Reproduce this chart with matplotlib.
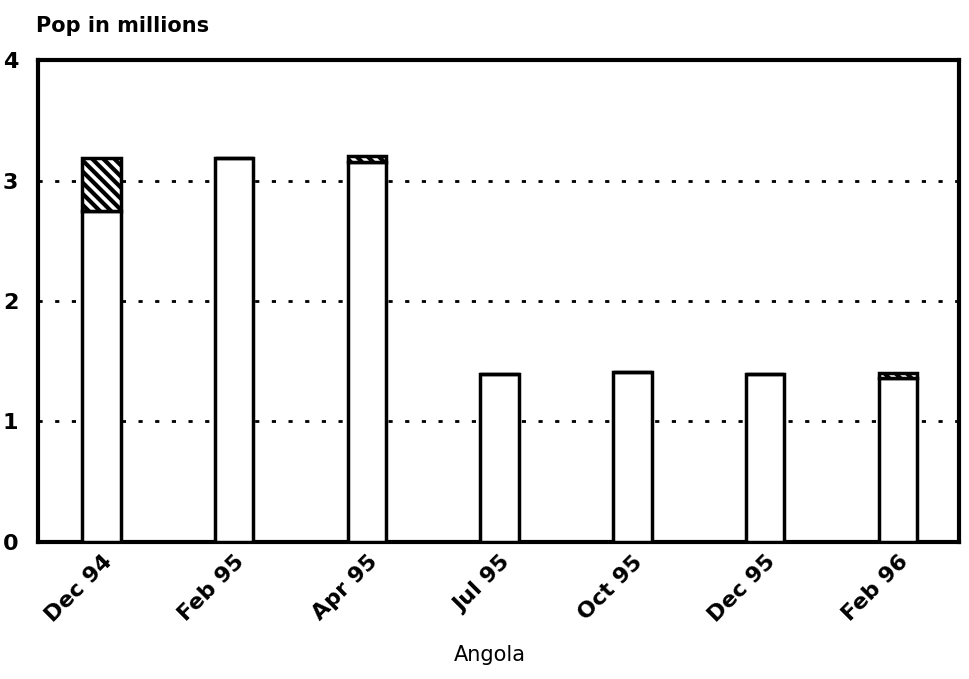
import matplotlib
matplotlib.use("Agg")
import matplotlib.pyplot as plt
import numpy as np

# values (millions)
months = ["Dec 94", "Feb 95", "Apr 95", "Jul 95", "Oct 95", "Dec 95", "Feb 96"]
base_pop = [2.75, 3.19, 3.15, 1.39, 1.41, 1.39, 1.36]
extra_pop = [0.44, 0.0, 0.05, 0.0, 0.0, 0.0, 0.04]
y_ticks = [0, 1, 2, 3, 4]

plt.rcParams["hatch.linewidth"] = 3.0

fig = plt.figure(figsize=(9.69, 6.79), dpi=100)
ax = fig.add_axes([0.039, 0.2018, 0.9505, 0.7098])

x = np.arange(len(months))
w = 0.29
ax.bar(x, base_pop, width=w, color="white", edgecolor="black", linewidth=2.5, zorder=3)
ax.bar(x, extra_pop, width=w, bottom=base_pop, color="white", edgecolor="black",
       hatch="\\\\\\", linewidth=2.5, zorder=3)

ax.set_xlim(-0.48, len(months) - 1 + 0.46)
ax.set_ylim(0, 4)
ax.set_yticks(y_ticks)
ax.set_yticklabels([str(v) for v in y_ticks], fontsize=16, fontweight="heavy")
ax.set_xticks(x)
ax.set_xticklabels(months, rotation=45, ha="right", rotation_mode="anchor",
                   fontsize=16, fontweight="heavy")
ax.tick_params(axis="both", length=0, pad=7)
ax.tick_params(axis="y", pad=14)

for v in [1, 2, 3]:
    ax.axhline(v, color="black", linestyle=(0, (1.5, 4.5)), linewidth=2, zorder=1)

for s in ax.spines.values():
    s.set_linewidth(3)

fig.text(0.037, 0.962, "Pop in millions", fontsize=15, fontweight="heavy",
         ha="left", va="center")
fig.text(0.506, 0.035, "Angola", fontsize=15, ha="center", va="center")

fig.savefig("out.png", dpi=100)
